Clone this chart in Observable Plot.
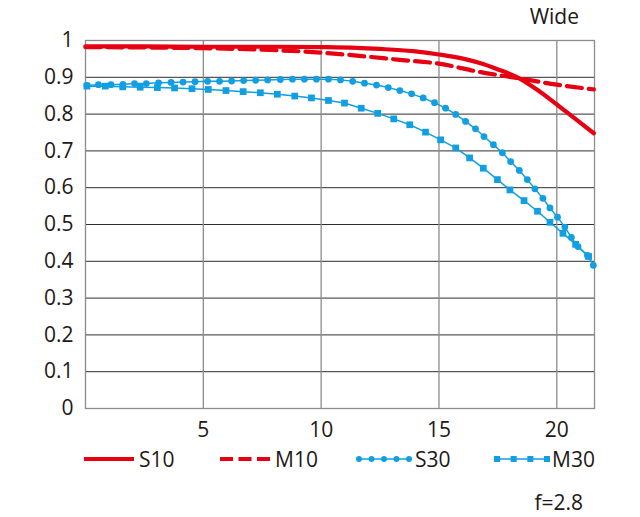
<!DOCTYPE html>
<html>
<head>
<meta charset="utf-8">
<script src="https://cdn.jsdelivr.net/npm/d3@7"></script>
<script src="https://cdn.jsdelivr.net/npm/@observablehq/plot@0.6"></script>
<style>
  html, body { margin: 0; padding: 0; background: #fff; }
  body { width: 640px; height: 517px; position: relative; overflow: hidden;
         font-family: "Open Sans", sans-serif; color: #231815; }
  #chart { position: absolute; left: 0; top: 0; }
  .lbl { position: absolute; font-size: 21px; line-height: 21px; white-space: nowrap; }
  .item { position: absolute; top: 0; height: 21px; }
  .item svg { position: absolute; left: 0; top: 5px; }
  .item span { position: absolute; top: 0; font-size: 21px; line-height: 21px; }
</style>
</head>
<body>
<div id="chart"></div>
<div class="lbl" id="title" style="top:6px; right:61px;">Wide</div>
<div id="legend" style="position:absolute; left:0; top:449px; width:640px; height:21px;"></div>
<div class="lbl" id="note" style="top:492px; right:57px;">f=2.8</div>
<script>
// ---- data ----
const xTicks = [5, 10, 15, 20];
const yTicks = [0, 0.1, 0.2, 0.3, 0.4, 0.5, 0.6, 0.7, 0.8, 0.9, 1];
const yGrid  = [0.1, 0.2, 0.3, 0.4, 0.5, 0.6, 0.7, 0.8, 0.9];

const seriesNames = ["S10", "M10", "S30", "M30"];

const s10x = [0, 2.5, 5, 8, 10, 11.5, 12.5, 13.9, 15, 16.06, 16.77, 17.48, 18.33, 19.17, 20, 20.87, 21.57];
const s10y = [0.984, 0.984, 0.983, 0.983, 0.982, 0.980, 0.977, 0.971, 0.962, 0.950, 0.938, 0.922, 0.900, 0.866, 0.826, 0.783, 0.748];

const m10x = [0, 2.5, 5, 7.5, 10, 10.8, 12, 13.23, 15, 16.77, 18.33, 20, 21.57];
const m10y = [0.982, 0.981, 0.979, 0.975, 0.967, 0.963, 0.956, 0.948, 0.937, 0.914, 0.898, 0.880, 0.867];

const s30x = [0.06, 0.55, 1.08, 1.59, 2.08, 2.58, 3.10, 3.63, 4.14, 4.65, 5.18, 5.69, 6.20, 6.71, 7.22, 7.73, 8.27, 8.78, 9.29, 9.80, 10.31,
              10.82, 11.34, 11.84, 12.35, 12.85, 13.34, 13.84, 14.33, 14.81, 15.28, 15.71, 16.13, 16.55, 16.91, 17.31, 17.69, 18.04,
              18.41, 18.75, 19.07, 19.41, 19.71, 20.03, 20.34, 20.62, 20.90, 21.30, 21.55];
const s30y = [0.878, 0.880, 0.880, 0.881, 0.883, 0.883, 0.885, 0.886, 0.887, 0.888, 0.889, 0.889, 0.890, 0.891, 0.892, 0.893, 0.894, 0.895, 0.895, 0.895, 0.895,
              0.893, 0.889, 0.884, 0.879, 0.872, 0.864, 0.855, 0.844, 0.831, 0.816, 0.799, 0.780, 0.760, 0.739, 0.717, 0.695, 0.671,
              0.647, 0.622, 0.597, 0.571, 0.545, 0.520, 0.493, 0.465, 0.440, 0.416, 0.389];

const m30x = [0.06, 0.84, 1.58, 2.32, 3.05, 3.78, 4.52, 5.21, 5.96, 6.69, 7.42, 8.14, 8.88, 9.59, 10.31, 10.99, 11.70, 12.40, 13.08,
              13.76, 14.43, 15.07, 15.71, 16.30, 16.88, 17.48, 18.01, 18.61, 19.18, 19.71, 20.26, 20.80, 21.35];
const m30y = [0.876, 0.876, 0.874, 0.873, 0.872, 0.871, 0.869, 0.867, 0.864, 0.861, 0.858, 0.854, 0.849, 0.844, 0.837, 0.830, 0.816, 0.802, 0.787,
              0.771, 0.751, 0.730, 0.708, 0.681, 0.653, 0.622, 0.594, 0.565, 0.536, 0.506, 0.476, 0.446, 0.413];

// ---- build tables ----
const toRows = (xs, ys) => xs.map((x, i) => ({x, y: ys[i]}));
const s10 = toRows(s10x, s10y);
const m10 = toRows(m10x, m10y);
const s30 = toRows(s30x, s30y);
const m30 = toRows(m30x, m30y);

const RED = "#e60012";
const BLUE = "#119fe2";
const GRID_DARK = "#2e2e2e";
const GRID_GRAY = "#8c8c8c";

const chart = Plot.plot({
  width: 640,
  height: 445,
  marginLeft: 85,
  marginRight: 46,
  marginTop: 40,
  marginBottom: 37,
  style: {fontFamily: "'Open Sans', sans-serif", fontSize: "21px", color: "#231815", background: "white", overflow: "visible"},
  x: {domain: [0, 21.6], ticks: xTicks, tickSize: 0, tickPadding: 14, label: null, tickFormat: d => String(d)},
  y: {domain: [0, 1], ticks: yTicks, tickSize: 0, tickPadding: 12, label: null, tickFormat: d => String(d)},
  marks: [
    Plot.ruleY(yGrid, {stroke: GRID_DARK, strokeWidth: 1}),
    Plot.ruleX(xTicks, {stroke: GRID_GRAY, strokeWidth: 1.3}),
    Plot.frame({stroke: GRID_GRAY, strokeWidth: 1.3}),
    Plot.line(m30, {x: "x", y: "y", stroke: BLUE, strokeWidth: 1.5}),
    Plot.dot(m30, {x: "x", y: "y", symbol: "square", r: 3.8, fill: BLUE, stroke: "none"}),
    Plot.line(s30, {x: "x", y: "y", stroke: BLUE, strokeWidth: 1.5}),
    Plot.dot(s30, {x: "x", y: "y", symbol: "circle", r: 3.4, fill: BLUE, stroke: "none"}),
    Plot.line(m10, {x: "x", y: "y", stroke: RED, strokeWidth: 4.2, strokeDasharray: "15,7", curve: "monotone-x"}),
    Plot.line(s10, {x: "x", y: "y", stroke: RED, strokeWidth: 4.2, curve: "monotone-x"})
  ]
});
document.getElementById("chart").appendChild(chart);

// ---- legend ----
const swatches = {
  S10: `<svg width="50" height="10"><line x1="0" y1="5" x2="50" y2="5" stroke="${RED}" stroke-width="4.2"/></svg>`,
  M10: `<svg width="50" height="10"><line x1="0" y1="5" x2="50" y2="5" stroke="${RED}" stroke-width="4.2" stroke-dasharray="13,5.5"/></svg>`,
  S30: `<svg width="56" height="10"><line x1="3" y1="5" x2="53" y2="5" stroke="${BLUE}" stroke-width="1.5"/>` +
       [0, 12.5, 25, 37.5, 50].map(d => `<circle cx="${3 + d}" cy="5" r="3" fill="${BLUE}"/>`).join("") + `</svg>`,
  M30: `<svg width="56" height="10"><line x1="3" y1="5" x2="53" y2="5" stroke="${BLUE}" stroke-width="1.5"/>` +
       [0, 16.67, 33.33, 50].map(d => `<rect x="${d}" y="2" width="6" height="6" fill="${BLUE}"/>`).join("") + `</svg>`
};
const legendLeft = [84, 220, 356, 494];
const textOffset = [55, 55, 59, 58];
const legend = document.getElementById("legend");
seriesNames.forEach((name, i) => {
  const item = document.createElement("div");
  item.className = "item";
  item.style.left = legendLeft[i] + "px";
  item.innerHTML = swatches[name] + `<span style="left:${textOffset[i]}px">${name}</span>`;
  legend.appendChild(item);
});
</script>
</body>
</html>
